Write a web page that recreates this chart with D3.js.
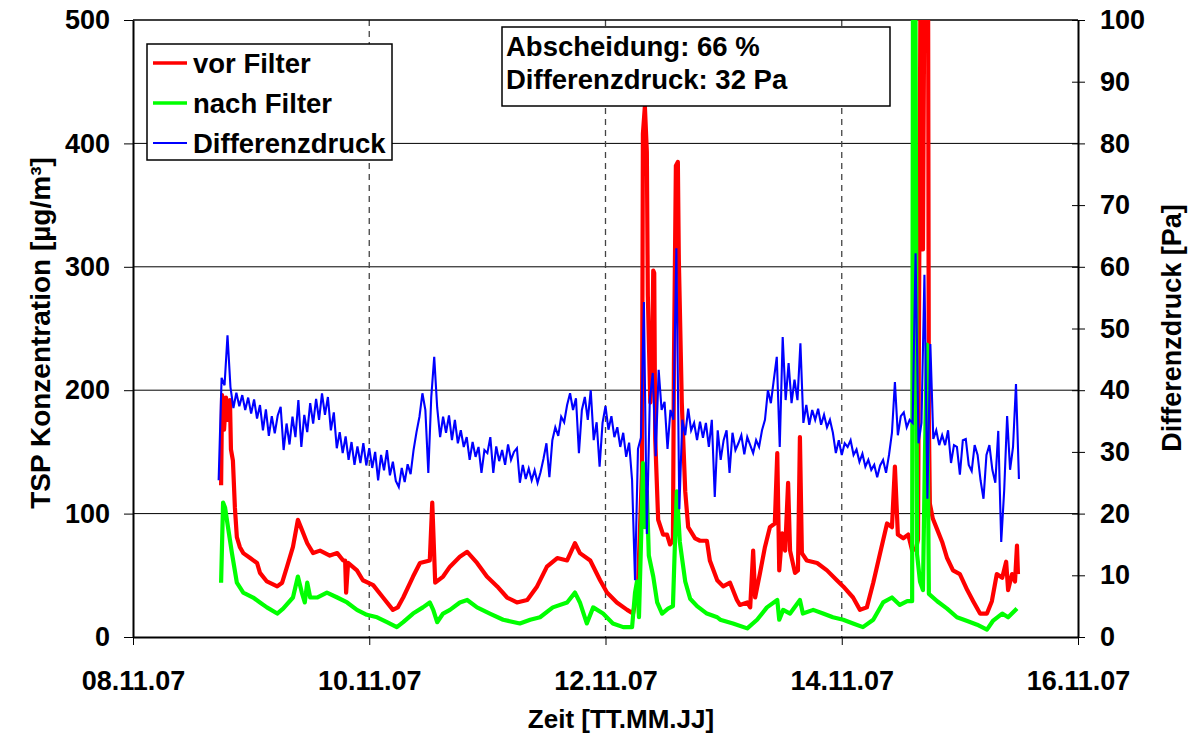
<!DOCTYPE html>
<html>
<head>
<meta charset="utf-8">
<script src="https://cdn.jsdelivr.net/npm/d3@7"></script>
<style>
body { margin: 0; background: #fff; }
svg text { font-family: 'Liberation Sans', Arial, sans-serif; font-weight: bold; fill: #000; }
</style>
</head>
<body>
<svg id="canvas"></svg>
<script>
let vorFilter = [
  [17.9,123],[18.1,196],[18.5,168],[18.9,194],[19.3,176],[19.7,192],[19.9,152],[20.3,143],[20.7,105],[21.1,81],
  [21.7,73],[22.4,68],[23.8,64],[25.2,60],[25.8,52],[27.2,45],[29.3,41],[30.3,44],[31.3,57],[32.5,73],
  [33.5,95],[34.3,87],[35.4,76],[36.6,68],[38.0,70],[40.0,66],[41.5,68],[42.7,62],[43.1,62],[43.3,36],
  [43.7,60],[45.5,54],[46.7,46],[48.8,42],[50.8,32],[52.8,22],[53.8,24],[54.9,32],[56.9,49],[58.3,60],
  [60.3,62],[60.8,109],[61.4,44],[63.0,49],[64.4,57],[66.4,65],[67.9,69],[69.9,60],[71.9,49],[74.0,41],
  [76.0,32],[78.0,28],[80.1,30],[82.1,41],[84.1,57],[86.2,64],[88.2,62],[89.8,76],[90.8,68],[92.9,62],
  [94.9,46],[96.3,36],[98.3,28],[100.4,22],[101.6,19],[102.6,41],[103.4,133],[103.6,408],[104.0,430],[104.4,393],
  [104.6,277],[105.1,190],[105.5,231],[105.7,297],[105.9,295],[106.1,161],[106.7,95],[107.7,83],[108.5,83],[109.1,75],
  [109.7,78],[109.9,220],[110.3,382],[110.7,385],[110.9,306],[111.5,190],[112.2,118],[112.8,89],[114.2,80],[115.2,78],
  [116.6,78],[117.2,62],[118.7,46],[119.9,41],[121.3,44],[122.7,30],[123.3,26],[124.8,28],[125.4,24],[126.0,70],
  [126.4,32],[127.4,52],[128.4,73],[129.4,89],[130.4,92],[130.9,149],[131.3,54],[131.9,84],[132.5,70],[133.1,125],
  [133.5,70],[134.5,52],[135.1,54],[135.5,162],[135.9,68],[136.9,62],[139.0,60],[141.0,54],[143.0,46],[144.3,41],
  [146.3,32],[147.7,22],[149.1,24],[150.4,44],[151.8,68],[153.2,92],[154.2,89],[154.8,138],[155.4,83],[156.5,80],
  [157.5,83],[158.3,70],[159.1,72],[159.5,79],[160.1,620],[160.5,314],[160.9,620],[161.5,620],[161.7,176],[161.9,108],
  [162.5,96],[163.4,87],[164.4,77],[165.4,64],[166.6,54],[168.0,51],[169.5,38],[170.7,29],[172.1,19],[173.5,19],
  [174.5,29],[175.5,51],[176.6,48],[177.4,61],[177.8,38],[178.6,51],[179.2,45],[179.6,74],[179.8,51]
]

let nachFilter = [
  [17.9,44],[18.3,109],[18.7,105],[19.3,89],[20.1,68],[21.1,44],[22.4,36],[24.4,32],[25.8,28],[27.2,24],
  [29.3,19],[30.5,23],[32.5,32],[33.5,49],[34.3,36],[34.9,28],[35.4,44],[36.0,32],[37.4,32],[39.4,36],
  [41.5,32],[43.5,28],[45.5,22],[47.5,18],[49.6,16],[51.6,12],[53.6,8],[54.9,12],[56.9,19],[58.9,24],
  [60.3,28],[61.0,22],[61.8,12],[63.0,19],[64.4,22],[66.4,28],[67.9,30],[69.9,24],[72.5,19],[75.2,14],
  [78.6,11],[80.7,14],[82.7,16],[85.3,24],[88.2,28],[89.8,36],[90.8,28],[92.2,11],[93.5,24],[95.5,19],
  [97.5,11],[99.6,8],[101.4,8],[102.0,36],[102.4,45],[102.8,16],[103.4,104],[103.6,141],[104.0,89],[104.4,118],
  [104.8,66],[105.7,49],[106.5,28],[107.5,19],[108.7,23],[109.7,25],[110.1,75],[110.5,118],[111.1,77],[112.2,45],
  [113.2,31],[114.6,25],[116.6,19],[118.7,16],[119.3,14],[121.9,11],[124.8,7],[126.8,14],[128.8,24],[130.9,30],
  [131.3,14],[132.1,22],[133.5,19],[135.5,30],[136.1,19],[138.2,22],[140.2,19],[142.2,16],[144.3,14],[146.3,11],
  [148.3,8],[150.4,14],[152.4,28],[154.2,32],[155.8,26],[157.3,29],[158.3,29],[158.5,620],[158.9,620],[159.3,67],
  [159.9,45],[160.5,38],[160.9,147],[161.3,237],[161.7,35],[163.4,29],[165.4,23],[167.4,16],[169.5,13],[171.5,10],
  [173.5,6],[174.7,13],[176.6,19],[177.8,16],[179.6,23]
]

// Differenzdruck in Pa (rechte Achse), Messwerte alle 0,6 h ab 17,4 h
let dpStart = 17.4
let dpStep = 0.6
let differenzdruck = [
  25.4,
  42.0, 40.8, 48.9, 40.5, 37.1, 39.6, 37.4, 39.2, 36.8, 38.8,
  36.2, 38.5, 35.4, 37.6, 33.5, 36.9, 32.6, 35.8, 33.0, 35.9,
  37.3, 30.3, 34.6, 31.2, 35.7, 32.4, 38.4, 30.8, 36.0, 33.2,
  37.9, 34.6, 38.6, 35.2, 39.5, 36.0, 38.9, 33.5, 36.4, 30.6,
  33.2, 29.8, 32.5, 28.7, 31.6, 27.9, 30.9, 28.2, 31.4, 27.8,
  30.6, 27.4, 30.0, 25.4, 29.5, 27.0, 30.3, 26.2, 28.4, 25.3,
  24.3, 27.4, 25.1, 28.0, 26.4, 30.3, 33.2, 35.7, 39.5, 36.8,
  26.6, 38.9, 45.4, 37.2, 32.4, 35.7, 33.1, 35.9, 31.9, 35.2,
  31.4, 33.5, 30.8, 32.4, 28.7, 31.6, 29.2, 30.8, 26.6, 30.3,
  29.8, 32.4, 26.6, 30.9, 28.5, 30.3, 27.9, 31.2, 28.7, 30.0,
  30.6, 25.0, 27.9, 25.6, 27.3, 25.4, 27.0, 25.0, 26.7, 28.9,
  31.4, 25.9, 31.9, 34.0, 32.6, 35.7, 34.8, 37.6, 39.5, 36.8,
  38.7, 29.8, 36.8, 38.9, 35.2, 40.0, 31.9, 34.8, 27.6, 34.7,
  37.4, 33.6, 35.8, 32.4, 34.0, 30.8, 33.1, 29.2, 31.5, 25.4,
  9.2, 30.5, 32.3, 54.3, 16.7, 38.4, 42.8, 29.3, 43.3, 36.8,
  38.1, 30.5, 36.8, 35.2, 63.0, 20.7, 35.2, 32.7, 37.0, 33.5,
  34.7, 31.9, 34.9, 32.3, 34.7, 30.8, 35.2, 22.7, 33.5, 28.7,
  31.9, 33.5, 26.6, 33.1, 30.3, 31.4, 32.7, 29.6, 32.4, 31.1,
  29.8, 31.9, 30.8, 33.5, 35.2, 40.0, 37.9, 41.7, 45.4, 30.8,
  48.6, 38.4, 44.4, 37.9, 41.7, 38.4, 47.6, 34.7, 37.6, 34.4,
  36.8, 35.2, 37.0, 34.4, 36.0, 34.0, 35.2, 33.1, 29.8, 31.9,
  29.5, 31.4, 30.8, 31.9, 29.5, 30.4, 28.4, 29.7, 27.6, 28.7,
  27.1, 27.9, 25.9, 27.8, 28.7, 26.6, 29.5, 33.1, 41.3, 32.7,
  35.8, 36.4, 34.0, 35.2, 34.7, 62.2, 31.4, 34.7, 58.7, 22.4,
  47.5, 32.1, 33.5, 31.1, 32.7, 31.1, 33.5, 28.2, 31.1, 30.8,
  26.3, 31.9, 32.1, 27.9, 26.9, 31.1, 29.5, 25.4, 22.4, 29.5,
  31.1, 27.1, 25.0, 33.4, 15.4, 23.7, 35.8, 27.1, 30.8, 41.0,
  25.6
]

let leftTicks = [0, 100, 200, 300, 400, 500]
let rightTicks = [0, 10, 20, 30, 40, 50, 60, 70, 80, 90, 100]
let dateTicks = [8, 10, 12, 14, 16]
let gridValues = [100, 200, 300, 400]
let dashedDays = [10, 12, 14]
let legendItems = ['vor Filter', 'nach Filter', 'Differenzdruck']
let legendColors = ['#ff0000', '#00ff00', '#0000ff']
let infoLines = ['Abscheidung: 66 %', 'Differenzdruck: 32 Pa']

let width = 1193
let height = 738
let plotLeft = 133
let plotRight = 1078
let plotTop = 20
let plotBottom = 637

let start = new Date(2007, 10, 8)
let toDate = (h) => new Date(start.getTime() + h * 3600000)

let canvas = d3.select('#canvas')
canvas.attr('width', width).attr('height', height)

let xScale = d3.scaleTime()
               .domain([start, new Date(2007, 10, 16)])
               .range([plotLeft, plotRight])
let yLeft = d3.scaleLinear().domain([0, 500]).range([plotBottom, plotTop])
let yRight = d3.scaleLinear().domain([0, 100]).range([plotBottom, plotTop])

// Gitter
canvas.append('g')
      .selectAll('line')
      .data(gridValues)
      .enter()
      .append('line')
      .attr('x1', plotLeft).attr('x2', plotRight)
      .attr('y1', (d) => yLeft(d)).attr('y2', (d) => yLeft(d))
      .attr('stroke', '#000').attr('stroke-width', 1)

canvas.append('g')
      .selectAll('line')
      .data(dashedDays)
      .enter()
      .append('line')
      .attr('x1', (d) => xScale(new Date(2007, 10, d)))
      .attr('x2', (d) => xScale(new Date(2007, 10, d)))
      .attr('y1', plotTop).attr('y2', plotBottom)
      .attr('stroke', '#444').attr('stroke-width', 1.3)
      .attr('stroke-dasharray', '6,5')

canvas.append('line')
      .attr('x1', plotLeft).attr('x2', plotRight)
      .attr('y1', plotTop).attr('y2', plotTop)
      .attr('stroke', '#000').attr('stroke-width', 1.5)

// Kurven
canvas.append('clipPath').attr('id', 'plot')
      .append('rect')
      .attr('x', plotLeft).attr('y', plotTop)
      .attr('width', plotRight - plotLeft).attr('height', plotBottom - plotTop)

let lineLeft = d3.line().x((d) => xScale(toDate(d[0]))).y((d) => yLeft(d[1]))
let lineRight = d3.line()
                  .x((d, i) => xScale(toDate(dpStart + i * dpStep)))
                  .y((d) => yRight(d))

let curves = canvas.append('g').attr('clip-path', 'url(#plot)')
curves.append('path').datum(vorFilter)
      .attr('d', lineLeft).attr('fill', 'none')
      .attr('stroke', '#ff0000').attr('stroke-width', 4.2).attr('stroke-linejoin', 'round')
curves.append('path').datum(nachFilter)
      .attr('d', lineLeft).attr('fill', 'none')
      .attr('stroke', '#00ff00').attr('stroke-width', 4.2).attr('stroke-linejoin', 'round')
curves.append('path').datum(differenzdruck)
      .attr('d', lineRight).attr('fill', 'none')
      .attr('stroke', '#0000ff').attr('stroke-width', 2.1)

// Achsen
let xAxis = d3.axisBottom(xScale)
              .tickValues(dateTicks.map((d) => new Date(2007, 10, d)))
              .tickFormat(d3.timeFormat('%d.%m.%y'))
              .tickSize(8).tickSizeOuter(0).tickPadding(26)
let yAxisLeft = d3.axisLeft(yLeft).tickValues(leftTicks)
                  .tickSize(9).tickSizeOuter(0).tickPadding(14)
let yAxisRight = d3.axisRight(yRight).tickValues(rightTicks)
                   .tickSize(7).tickSizeOuter(0).tickPadding(15)

let gx = canvas.append('g').attr('transform', 'translate(0,' + plotBottom + ')').call(xAxis)
let gl = canvas.append('g').attr('transform', 'translate(' + plotLeft + ',0)').call(yAxisLeft)
let gr = canvas.append('g').attr('transform', 'translate(' + plotRight + ',0)').call(yAxisRight)
gr.selectAll('.tick line').attr('x1', -6)

;[gx, gl, gr].forEach((g) => {
  g.selectAll('.domain').attr('stroke', '#000').attr('stroke-width', 2)
  g.selectAll('.tick line').attr('stroke', '#000').attr('stroke-width', 1)
  g.selectAll('text').attr('font-size', 27).attr('font-family', null)
})

// Achsentitel
canvas.append('text')
      .attr('transform', 'translate(40,333) rotate(-90)')
      .attr('text-anchor', 'middle').attr('dy', '0.35em')
      .attr('font-size', 28)
      .text('TSP Konzentration [µg/m³]')
canvas.append('text')
      .attr('transform', 'translate(1172,328) rotate(-90)')
      .attr('text-anchor', 'middle').attr('dy', '0.35em')
      .attr('font-size', 27)
      .text('Differenzdruck [Pa]')
canvas.append('text')
      .attr('x', 621).attr('y', 728)
      .attr('text-anchor', 'middle')
      .attr('font-size', 26)
      .text('Zeit [TT.MM.JJ]')

// Legende
let legend = canvas.append('g')
legend.append('rect')
      .attr('x', 147).attr('y', 44).attr('width', 245).attr('height', 116)
      .attr('fill', '#fff').attr('stroke', '#000').attr('stroke-width', 1.5)
legendItems.forEach((name, i) => {
  let cy = 63 + i * 40
  legend.append('line')
        .attr('x1', 153).attr('x2', 187).attr('y1', cy).attr('y2', cy)
        .attr('stroke', legendColors[i]).attr('stroke-width', i < 2 ? 3.5 : 1.8)
  legend.append('text')
        .attr('x', 193).attr('y', cy + 10)
        .attr('font-size', 27.5)
        .text(name)
})

// Info-Kasten
let info = canvas.append('g')
info.append('rect')
    .attr('x', 502).attr('y', 27).attr('width', 388).attr('height', 79)
    .attr('fill', '#fff').attr('stroke', '#000').attr('stroke-width', 1.5)
infoLines.forEach((t, i) => {
  info.append('text')
      .attr('x', 506).attr('y', 56 + i * 33)
      .attr('font-size', 27.5)
      .text(t)
})
</script>
</body>
</html>
